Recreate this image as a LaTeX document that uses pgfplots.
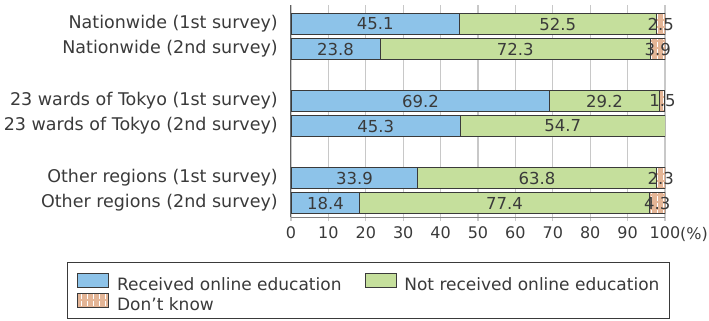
\documentclass[border=0pt]{standalone}
\usepackage{pgfplots}
\pgfplotsset{compat=1.18}
\usepackage{fontspec}
\setmainfont{DejaVu Sans}
\usetikzlibrary{patterns}
\definecolor{cblue}{HTML}{8DC3E9}
\definecolor{cgreen}{HTML}{C5DF9C}
\definecolor{ctan}{HTML}{E4B596}
\definecolor{cedge}{HTML}{3A3A3A}
\definecolor{ctext}{HTML}{3A3A3A}
\definecolor{cgrid}{HTML}{C8C8C8}
\pgfdeclarepatternformonly{dkgrid}{\pgfqpoint{-1bp}{-1bp}}{\pgfqpoint{7bp}{8bp}}{\pgfqpoint{6bp}{7bp}}{%
  \pgfsetlinewidth{0.6bp}%
  \pgfpathmoveto{\pgfqpoint{3bp}{0bp}}\pgfpathlineto{\pgfqpoint{3bp}{5bp}}%
  \pgfusepath{stroke}}
\pgfplotsset{mylegend/.style={legend image code/.code={\draw[##1,line width=0.8bp] (0bp,-7bp) rectangle (31bp,7bp);}}}
\begin{document}
\begin{tikzpicture}
\begin{axis}[
  scale only axis, width=374bp, height=212bp,
  xmin=0, xmax=100, ymin=-7.72, ymax=0.76,
  xbar stacked, bar width=21bp,
  xtick={0,10,...,100},
  ytick={0,-1,-3.08,-4.08,-6.16,-7.16},
  yticklabels={Nationwide (1st survey),Nationwide (2nd survey),23 wards of Tokyo (1st survey),23 wards of Tokyo (2nd survey),Other regions (1st survey),Other regions (2nd survey)},
  axis x line*=bottom, axis y line*=left,
  x axis line style={draw=gray, line width=1bp},
  y axis line style={draw=cedge!80, line width=1bp},
  xmajorgrids, grid style={cgrid, line width=1.1bp},
  tick align=outside, major tick length=4bp,
  xtick style={cgrid, line width=1.1bp},
  ytick style={draw=none},
  /pgf/number format/assume math mode=true,
  xticklabel style={font=\fontsize{16bp}{19bp}\selectfont, text=ctext, inner sep=0pt, yshift=-5bp},
  yticklabel style={font=\fontsize{17.5bp}{21bp}\selectfont, text=ctext, inner sep=0pt, xshift=-9bp},
  legend columns=2,
  legend cell align=left,
  legend style={at={(axis description cs:-0.599,-0.212)}, anchor=north west,
    draw=cedge, line width=0.8bp, inner xsep=10bp, inner ysep=7bp,
    font=\fontsize{17bp}{20bp}\selectfont, text=ctext, row sep=-1.5bp,
    nodes={inner sep=0bp, text height=21bp, text depth=1bp},
    /tikz/every odd column/.append style={column sep=8bp},
    /tikz/column 2/.append style={column sep=23bp}},
]
\addplot[fill=cblue, draw=cedge, line width=0.8bp, mylegend] coordinates {(45.1,0) (23.8,-1) (69.2,-3.08) (45.3,-4.08) (33.9,-6.16) (18.4,-7.16)};
\addlegendentry{Received online education}
\addplot[fill=cgreen, draw=cedge, line width=0.8bp, mylegend] coordinates {(52.5,0) (72.3,-1) (29.2,-3.08) (54.7,-4.08) (63.8,-6.16) (77.4,-7.16)};
\addlegendentry{Not received online education}
\addplot[fill=ctan, draw=cedge, line width=0.8bp, postaction={pattern=dkgrid, pattern color=white}, mylegend] coordinates {(2.5,0) (3.9,-1) (1.5,-3.08) (0,-4.08) (2.3,-6.16) (4.3,-7.16)};
\addlegendentry{Don't know}
\end{axis}
\begin{axis}[
  scale only axis, width=374bp, height=212bp,
  xmin=0, xmax=100, ymin=-7.72, ymax=0.76,
  hide axis, clip=false,
]
\addplot[draw=none, point meta=explicit symbolic,
  nodes near coords,
  every node near coord/.style={anchor=center, inner sep=0pt, font=\fontsize{16.5bp}{19bp}\selectfont, text=ctext}]
  coordinates {
  (22.55,0)[45.1] (71.35,0)[52.5] (98.85,0)[2.5]
  (11.9,-1)[23.8] (59.95,-1)[72.3] (98.05,-1)[3.9]
  (34.6,-3.08)[69.2] (83.8,-3.08)[29.2] (99.3,-3.08)[1.5]
  (22.65,-4.08)[45.3] (72.65,-4.08)[54.7]
  (16.95,-6.16)[33.9] (65.8,-6.16)[63.8] (98.85,-6.16)[2.3]
  (9.2,-7.16)[18.4] (57.1,-7.16)[77.4] (97.95,-7.16)[4.3]
  };
\node[anchor=base west, font=\fontsize{16bp}{19bp}\selectfont, text=ctext, inner sep=0pt] at (axis description cs:1,0) [xshift=15bp, yshift=-22bp] {(\%)};
\path (axis description cs:-0.778,1.0236) rectangle (axis description cs:1.1176,-0.486);
\end{axis}
\end{tikzpicture}
\end{document}
